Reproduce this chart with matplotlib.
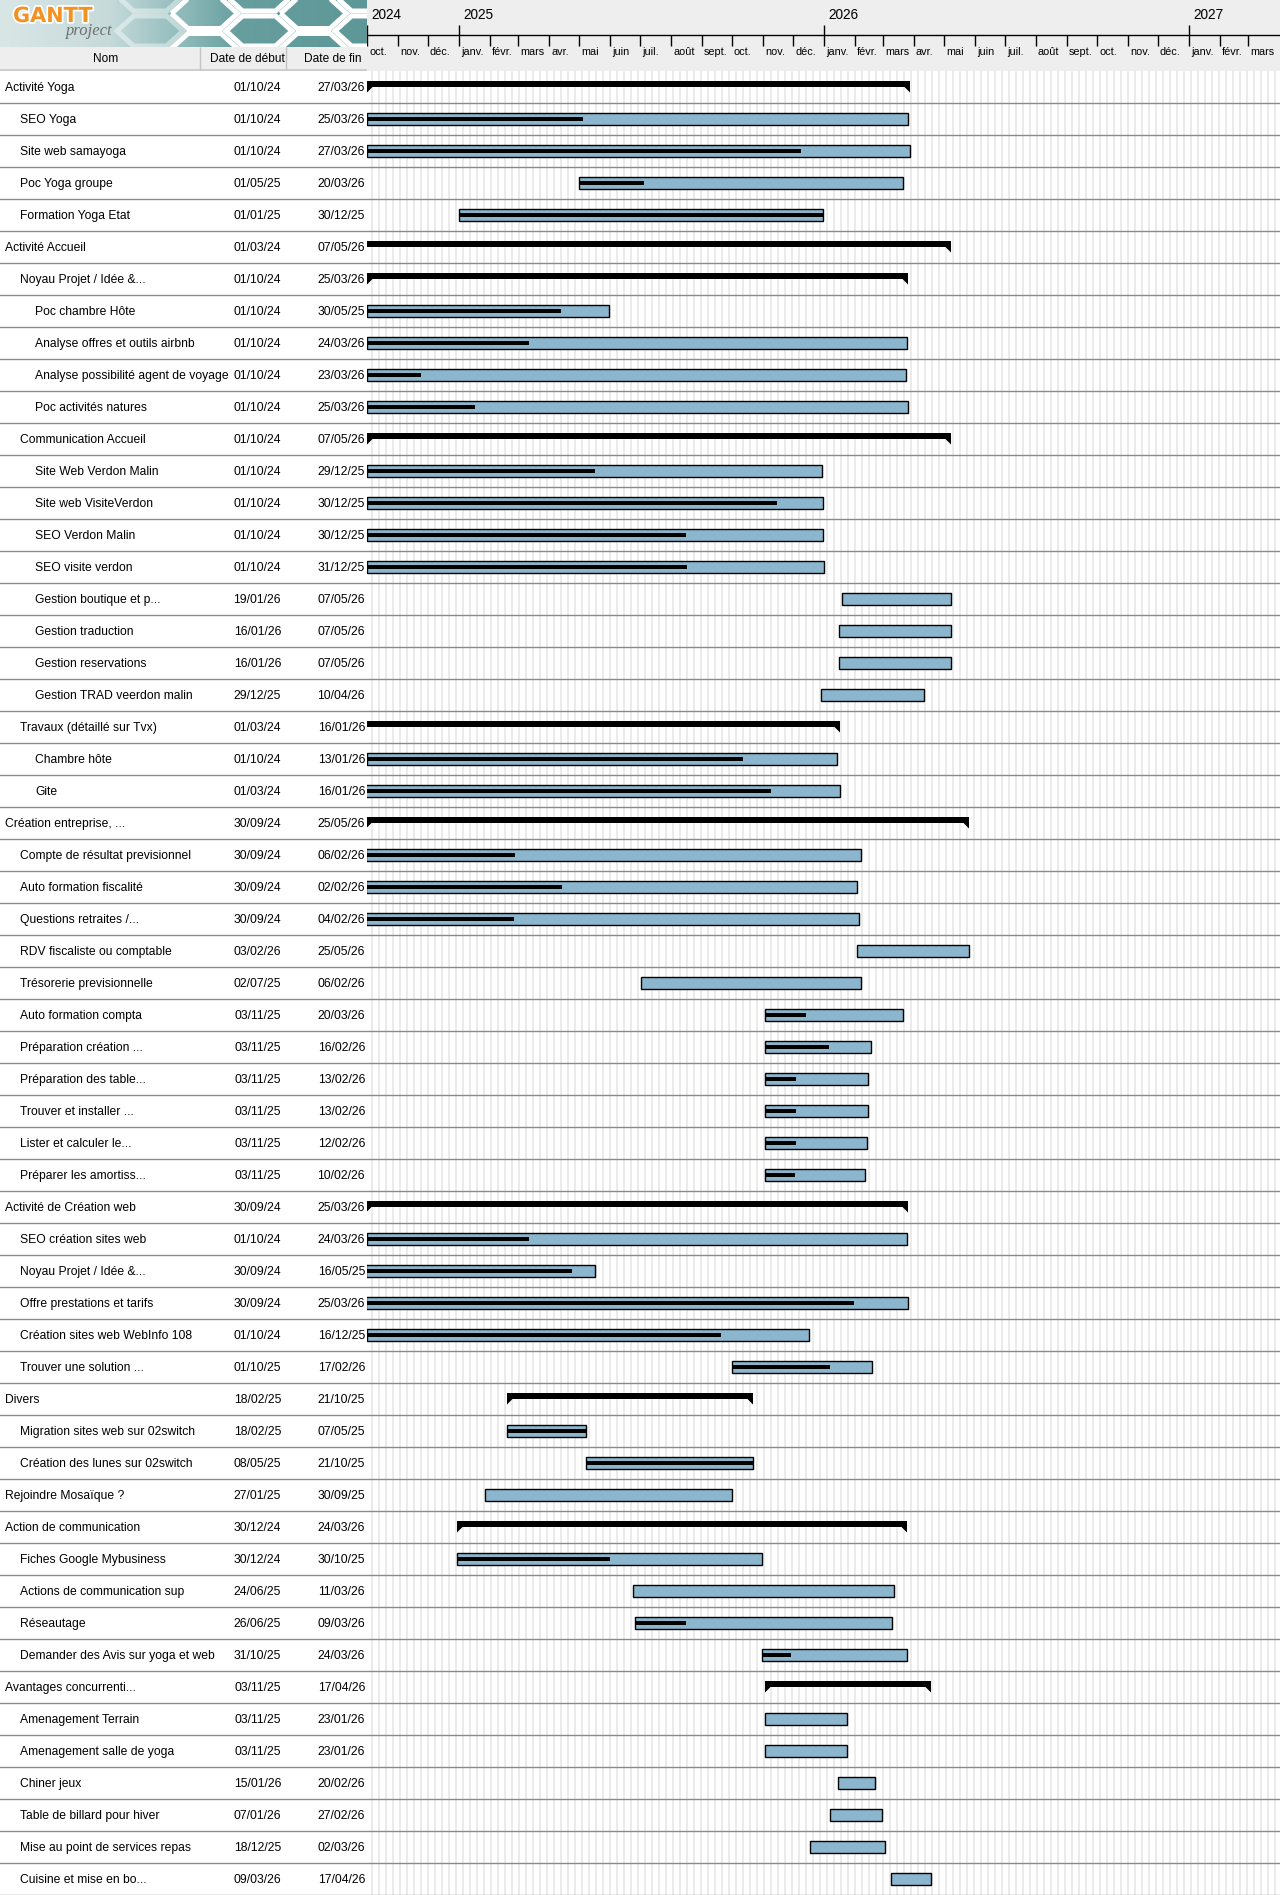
import datetime as dt
import numpy as np
import matplotlib
matplotlib.use("Agg")
import matplotlib.pyplot as plt
import matplotlib.dates as mdates
from matplotlib.patches import Polygon
from matplotlib.colors import LinearSegmentedColormap
import matplotlib.patheffects as pe

plt.rcParams['font.family'] = ['Liberation Sans', 'DejaVu Sans']

# ---------------- data ----------------
task_names = [
    "Activité Yoga", "SEO Yoga", "Site web samayoga", "Poc Yoga groupe", "Formation Yoga Etat",
    "Activité Accueil", "Noyau Projet / Idée &...", "Poc chambre Hôte", "Analyse offres et outils airbnb",
    "Analyse possibilité agent de voyage", "Poc activités natures", "Communication Accueil",
    "Site Web Verdon Malin", "Site web VisiteVerdon", "SEO Verdon Malin", "SEO visite verdon",
    "Gestion boutique et p...", "Gestion traduction", "Gestion reservations", "Gestion TRAD veerdon malin",
    "Travaux (détaillé sur Tvx)", "Chambre hôte", "Gite",
    "Création entreprise, ...", "Compte de résultat previsionnel", "Auto formation fiscalité",
    "Questions retraites /...", "RDV fiscaliste ou comptable", "Trésorerie previsionnelle",
    "Auto formation compta", "Préparation création ...", "Préparation des table...",
    "Trouver et installer ...", "Lister et calculer le...", "Préparer les amortiss...",
    "Activité de Création web", "SEO création sites web", "Noyau Projet / Idée &...",
    "Offre prestations et tarifs", "Création sites web WebInfo 108", "Trouver une solution ...",
    "Divers", "Migration sites web sur 02switch", "Création des lunes sur 02switch",
    "Rejoindre Mosaïque ?",
    "Action de communication", "Fiches Google Mybusiness", "Actions de communication sup",
    "Réseautage", "Demander des Avis sur yoga et web",
    "Avantages concurrenti...", "Amenagement Terrain", "Amenagement salle de yoga", "Chiner jeux",
    "Table de billard pour hiver", "Mise au point de services repas", "Cuisine et mise en bo...",
]
task_levels = [
    0, 1, 1, 1, 1,
    0, 1, 2, 2, 2, 2, 1,
    2, 2, 2, 2, 2, 2, 2, 2,
    1, 2, 2,
    0, 1, 1, 1, 1, 1, 1, 1, 1, 1, 1, 1,
    0, 1, 1, 1, 1, 1,
    0, 1, 1,
    0,
    0, 1, 1, 1, 1,
    0, 1, 1, 1, 1, 1, 1,
]
task_starts = [
    "01/10/24", "01/10/24", "01/10/24", "01/05/25", "01/01/25",
    "01/03/24", "01/10/24", "01/10/24", "01/10/24", "01/10/24", "01/10/24", "01/10/24",
    "01/10/24", "01/10/24", "01/10/24", "01/10/24", "19/01/26", "16/01/26", "16/01/26", "29/12/25",
    "01/03/24", "01/10/24", "01/03/24",
    "30/09/24", "30/09/24", "30/09/24", "30/09/24", "03/02/26", "02/07/25", "03/11/25", "03/11/25",
    "03/11/25", "03/11/25", "03/11/25", "03/11/25",
    "30/09/24", "01/10/24", "30/09/24", "30/09/24", "01/10/24", "01/10/25",
    "18/02/25", "18/02/25", "08/05/25",
    "27/01/25",
    "30/12/24", "30/12/24", "24/06/25", "26/06/25", "31/10/25",
    "03/11/25", "03/11/25", "03/11/25", "15/01/26", "07/01/26", "18/12/25", "09/03/26",
]
task_ends = [
    "27/03/26", "25/03/26", "27/03/26", "20/03/26", "30/12/25",
    "07/05/26", "25/03/26", "30/05/25", "24/03/26", "23/03/26", "25/03/26", "07/05/26",
    "29/12/25", "30/12/25", "30/12/25", "31/12/25", "07/05/26", "07/05/26", "07/05/26", "10/04/26",
    "16/01/26", "13/01/26", "16/01/26",
    "25/05/26", "06/02/26", "02/02/26", "04/02/26", "25/05/26", "06/02/26", "20/03/26", "16/02/26",
    "13/02/26", "13/02/26", "12/02/26", "10/02/26",
    "25/03/26", "24/03/26", "16/05/25", "25/03/26", "16/12/25", "17/02/26",
    "21/10/25", "07/05/25", "21/10/25",
    "30/09/25",
    "24/03/26", "30/10/25", "11/03/26", "09/03/26", "24/03/26",
    "17/04/26", "23/01/26", "23/01/26", "20/02/26", "27/02/26", "02/03/26", "17/04/26",
]
task_progress = [
    0, 40, 80, 20, 100,
    0, 0, 80, 30, 10, 20, 0,
    50, 90, 70, 70, 0, 0, 0, 0,
    0, 80, 90,
    0, 30, 40, 30, 0, 0, 30, 60, 30, 30, 30, 30,
    0, 30, 90, 90, 80, 70,
    0, 100, 100,
    0,
    0, 50, 0, 20, 20,
    0, 0, 0, 0, 0, 0, 0,
]
task_is_summary = [
    True, False, False, False, False,
    True, True, False, False, False, False, True,
    False, False, False, False, False, False, False, False,
    True, False, False,
    True, False, False, False, False, False, False, False, False, False, False, False,
    True, False, False, False, False, False,
    True, False, False,
    False,
    True, False, False, False, False,
    True, False, False, False, False, False, False,
]
column_titles = ["Nom", "Date de début", "Date de fin"]
month_labels = ["janv.", "févr.", "mars", "avr.", "mai", "juin",
                "juil.", "août", "sept.", "oct.", "nov.", "déc."]
view_start = "01/10/24"
view_end = "01/04/27"


def d(s):
    dd, mm, yy = s.split("/")
    return dt.date(2000 + int(yy), int(mm), int(dd))


# ---------------- layout ----------------
N = len(task_names)
W, H, DPI = 1280, 1895, 100
ROW = 32
LEFT = 367
HEAD = H - ROW * N          # header height (71 px)
LOGO_H = 47
BAR_COLOR = "#8cb6ce"
LINE_COLOR = "#8a8a8a"
HEAD_BG = "#eeeeee"
FS = 8.7

fig = plt.figure(figsize=(W / DPI, H / DPI), dpi=DPI)
fig.patch.set_facecolor("white")

x0 = mdates.date2num(d(view_start))
x1 = mdates.date2num(d(view_end)) + 1

# ---------------- chart body ----------------
ax = fig.add_axes([LEFT / W, 0, 1 - LEFT / W, (H - HEAD) / H])
ax.set_xlim(x0, x1)
ax.set_ylim(N, 0)
ax.axis("off")

day = d(view_start)
while day <= d(view_end):
    if day.weekday() == 5:
        xn = mdates.date2num(day)
        ax.axvspan(xn, xn + 2, color="#ebebeb", lw=0, zorder=0)
    day += dt.timedelta(days=1)

for i in range(1, N + 1):
    ax.axhline(i, color=LINE_COLOR, lw=1.0, zorder=1)

for i in range(N):
    s = mdates.date2num(d(task_starts[i]))
    e = mdates.date2num(d(task_ends[i])) + 1
    if task_is_summary[i]:
        ax.barh(i + 13 / ROW, e - s, left=s, height=6.5 / ROW, color="black", lw=0, zorder=3)
        ax.add_patch(Polygon([(s, i + 16 / ROW), (s, i + 21.5 / ROW), (s + 5.5, i + 16 / ROW)],
                             closed=True, facecolor="black", lw=0, zorder=3))
        ax.add_patch(Polygon([(e, i + 16 / ROW), (e, i + 21.5 / ROW), (e - 5.5, i + 16 / ROW)],
                             closed=True, facecolor="black", lw=0, zorder=3))
    else:
        ax.barh(i + 0.5, e - s, left=s, height=12 / ROW, color=BAR_COLOR,
                edgecolor="black", lw=1.0, zorder=3)
        p = task_progress[i]
        if p:
            ax.barh(i + 0.5, (e - s) * p / 100.0, left=s, height=3.8 / ROW,
                    color="black", lw=0, zorder=4)

# ---------------- timeline header ----------------
axh = fig.add_axes([LEFT / W, (H - HEAD) / H, 1 - LEFT / W, HEAD / H])
axh.set_xlim(x0, x1)
axh.set_ylim(HEAD, 0)
axh.set_facecolor(HEAD_BG)
axh.set_xticks([])
axh.set_yticks([])
for sp in axh.spines.values():
    sp.set_visible(False)
axh.axhline(35, color="black", lw=1.0)

y, m = d(view_start).year, d(view_start).month
while True:
    md = dt.date(y, m, 1)
    if md >= d(view_end):
        break
    xm = mdates.date2num(md)
    axh.vlines(xm, 35, 46, color="black", lw=1.0)
    axh.text(xm + 2, 52, month_labels[m - 1], ha="left", va="center", fontsize=7.8)
    if m == 1 or md == d(view_start):
        axh.vlines(xm, 25, 35, color="black", lw=1.0)
        axh.text(xm + 4, 15, str(y), ha="left", va="center", fontsize=9.8)
    m += 1
    if m > 12:
        m = 1
        y += 1

# ---------------- table body ----------------
axt = fig.add_axes([0, 0, LEFT / W, (H - HEAD) / H])
axt.set_xlim(0, LEFT)
axt.set_ylim(N, 0)
axt.axis("off")
for i in range(N):
    yc = i + 0.5 + 1.0 / ROW
    axt.text(5 + 15 * task_levels[i], yc, task_names[i], ha="left", va="center", fontsize=FS)
    axt.text(281, yc, task_starts[i], ha="right", va="center", fontsize=FS)
    axt.text(365, yc, task_ends[i], ha="right", va="center", fontsize=FS)
    axt.axhline(i + 1, color=LINE_COLOR, lw=1.0)

# ---------------- table header ----------------
axc = fig.add_axes([0, (H - HEAD) / H, LEFT / W, (HEAD - LOGO_H) / H])
axc.set_xlim(0, LEFT)
axc.set_ylim(HEAD, LOGO_H)
axc.set_facecolor(HEAD_BG)
axc.set_xticks([])
axc.set_yticks([])
for sp in axc.spines.values():
    sp.set_visible(False)
axc.vlines([200, 286], LOGO_H, HEAD, color="#c4c4c4", lw=1.0)
axc.axhline(HEAD - 0.8, color="#c8c8c8", lw=1.2)
for cx, t in zip([106, 247, 333], column_titles):
    axc.text(cx, (LOGO_H + HEAD) / 2 + 0.5, t, ha="center", va="center", fontsize=8.6)

# ---------------- logo ----------------
axl = fig.add_axes([0, (H - LOGO_H) / H, LEFT / W, LOGO_H / H])
cmap = LinearSegmentedColormap.from_list(
    "logo", [(0, "#d9e6e6"), (0.3, "#c6dada"), (0.5, "#8fbaba"), (0.65, "#679f9f"), (1, "#5e9797")])
axl.imshow(np.linspace(0, 1, 256)[None, :], extent=[0, LEFT, LOGO_H, 0], cmap=cmap, aspect="auto")
a, b = 33, 15
for k in range(-1, 10):
    cx = 150 + k * (1.5 * a + 5)
    for mrow in range(-2, 4):
        cy = -4 + (k % 2) * (b + 2.5) + mrow * (2 * b + 5)
        if cx < 135:
            continue
        alpha = float(np.clip((cx - 110) / 90.0, 0.35, 1.0))
        verts = [(cx - a, cy), (cx - a / 2, cy - b), (cx + a / 2, cy - b),
                 (cx + a, cy), (cx + a / 2, cy + b), (cx - a / 2, cy + b)]
        axl.add_patch(Polygon(verts, closed=True, facecolor="none",
                              edgecolor="white", lw=3.6, alpha=alpha))
axl.set_xlim(0, LEFT)
axl.set_ylim(LOGO_H, 0)
axl.axis("off")
axl.text(13, 16, "GANTT", ha="left", va="center", fontsize=15, fontweight="bold",
         color="#f39221", family=["DejaVu Sans"],
         path_effects=[pe.withStroke(linewidth=2.5, foreground="white")])
axl.text(66, 31, "project", ha="left", va="center", fontsize=12, style="italic",
         color="#6e6e6e", family=["Liberation Serif", "DejaVu Serif"])

fig.savefig("out.png", dpi=DPI)
